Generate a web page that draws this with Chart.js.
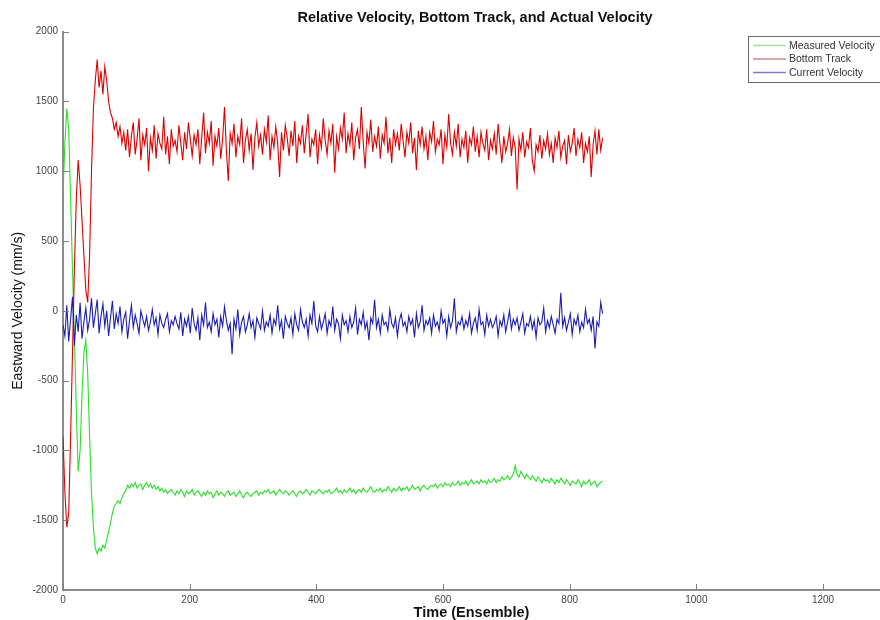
<!DOCTYPE html>
<html>
<head>
<meta charset="utf-8">
<script src="https://cdn.jsdelivr.net/npm/chart.js@4.4.1/dist/chart.umd.min.js"></script>
<style>
  html, body { margin: 0; padding: 0; background: #fff; }
  #wrap { width: 880px; height: 620px; position: relative; }
</style>
</head>
<body>
<div id="wrap"><canvas id="c"></canvas></div>
<script>
// ---- data ----
const chartTitle = 'Relative Velocity, Bottom Track, and Actual Velocity';
const xAxisTitle = 'Time (Ensemble)';
const yAxisTitle = 'Eastward Velocity (mm/s)';
const seriesNames = ['Measured Velocity', 'Bottom Track', 'Current Velocity'];
const ensembleStep = 3; // one sample every 3 ensembles, starting at ensemble 0
const xTickValues = [0, 200, 400, 600, 800, 1000, 1200];
const yTickValues = [-2000, -1500, -1000, -500, 0, 500, 1000, 1500, 2000];

const measuredVelocity = [
  850,1200,1450,1300,800,300,-200,-700,-1150,-1000,-600,-300,-210,-450,-900,
  -1300,-1550,-1700,-1740,-1700,-1720,-1680,-1700,-1640,-1580,-1520,-1450,-1400,-1380,-1360,
  -1380,-1340,-1310,-1290,-1250,-1270,-1240,-1260,-1230,-1270,-1250,-1240,-1280,-1250,-1230,
  -1260,-1240,-1270,-1250,-1280,-1260,-1290,-1270,-1300,-1280,-1310,-1290,-1280,-1300,-1320,
  -1290,-1310,-1280,-1300,-1330,-1290,-1310,-1300,-1280,-1320,-1300,-1290,-1310,-1330,-1300,
  -1320,-1290,-1310,-1300,-1340,-1310,-1290,-1320,-1300,-1310,-1330,-1300,-1290,-1320,-1310,
  -1300,-1330,-1310,-1290,-1320,-1340,-1310,-1300,-1320,-1330,-1310,-1300,-1290,-1320,-1300,
  -1310,-1290,-1300,-1280,-1310,-1300,-1290,-1320,-1300,-1280,-1300,-1310,-1290,-1300,-1320,
  -1300,-1290,-1310,-1330,-1300,-1290,-1310,-1300,-1280,-1300,-1320,-1290,-1300,-1310,-1290,
  -1280,-1300,-1310,-1290,-1300,-1280,-1310,-1300,-1290,-1270,-1300,-1290,-1310,-1280,-1300,
  -1290,-1270,-1300,-1280,-1310,-1290,-1280,-1300,-1270,-1290,-1300,-1280,-1260,-1290,-1300,
  -1280,-1290,-1270,-1300,-1280,-1290,-1260,-1280,-1300,-1270,-1290,-1280,-1260,-1290,-1270,
  -1280,-1260,-1290,-1270,-1250,-1280,-1270,-1260,-1290,-1260,-1250,-1270,-1280,-1260,-1250,
  -1260,-1240,-1270,-1250,-1240,-1260,-1230,-1250,-1240,-1260,-1230,-1250,-1240,-1220,-1250,
  -1230,-1240,-1220,-1250,-1230,-1210,-1240,-1230,-1220,-1240,-1210,-1230,-1220,-1240,-1210,
  -1230,-1220,-1200,-1230,-1210,-1220,-1190,-1210,-1200,-1180,-1210,-1190,-1170,-1110,-1170,
  -1190,-1150,-1180,-1200,-1170,-1190,-1210,-1180,-1200,-1220,-1190,-1210,-1230,-1200,-1220,
  -1210,-1230,-1200,-1220,-1240,-1210,-1230,-1200,-1220,-1240,-1210,-1230,-1250,-1220,-1230,
  -1240,-1210,-1230,-1260,-1220,-1240,-1230,-1210,-1250,-1230,-1220,-1260,-1240,-1230,-1220
];

const bottomTrack = [
  -900,-1300,-1550,-1450,-900,-300,300,800,1080,900,650,400,150,60,400,
  1000,1450,1650,1800,1600,1720,1550,1750,1650,1500,1420,1380,1300,1350,1250,
  1320,1200,1280,1150,1300,1100,1250,1350,1120,1230,1380,1080,1260,1190,1310,
  1000,1240,1150,1330,1090,1270,1200,1160,1390,1120,1250,1050,1300,1180,1220,
  1140,1330,1200,1080,1280,1160,1350,1230,1110,1260,1190,1300,1050,1240,1420,
  1130,1280,1200,1360,1040,1250,1180,1310,1090,1230,1460,1150,930,1270,1200,
  1340,1100,1250,1190,1380,1060,1220,1300,1150,1270,1010,1240,1350,1180,1260,
  1120,1300,1210,1400,1080,1250,1170,1320,1200,960,1280,1150,1330,1240,1110,
  1290,1180,1360,1060,1250,1200,1330,1130,1270,1410,1100,1230,1190,1300,1050,
  1260,1170,1380,1220,1120,1290,1200,1340,990,1250,1160,1310,1230,1420,1130,
  1270,1190,1350,1080,1240,1300,1160,1460,1210,1020,1280,1200,1370,1140,1250,
  1180,1320,1090,1260,1200,1390,1130,1240,1060,1300,1190,1270,1150,1340,1220,
  1100,1280,1200,1350,1130,1240,1010,1290,1190,1320,1160,1250,1080,1280,1210,
  1360,1140,1230,1190,1300,1050,1260,1170,1410,1200,1120,1280,1180,1340,1100,
  1230,1170,1290,1060,1240,1190,1320,1140,1250,1100,1280,1200,1150,1300,1080,
  1220,1160,1270,1120,1340,1190,1060,1250,1140,1200,1300,1110,1240,1170,870,
  1230,1150,1280,1100,1210,1170,1310,1080,1000,1190,1140,1260,1090,1220,1160,
  1270,1120,1200,1060,1240,1170,1290,1100,1180,1220,1050,1260,1140,1200,1310,
  1110,1230,1170,1280,1060,1200,1140,1250,960,1190,1290,1120,1300,1150,1240
];

const currentVelocity = [
  -100,-180,40,-220,-60,100,-250,-30,-150,60,-200,-80,20,-140,-60,
  90,-120,-20,80,-160,-40,50,-110,0,-180,-50,70,-130,-20,-90,
  30,-150,-60,-10,-200,-70,40,-120,-30,-90,-160,0,-60,-110,-40,
  -140,-80,10,-100,-50,-170,-30,-90,-120,-60,-20,-150,-70,-100,-40,
  -90,-130,-10,-180,-60,-110,-40,-160,20,-90,-140,-50,-210,-30,-100,
  60,-120,-80,-150,-20,-100,-60,-190,-40,-110,30,-70,-140,-90,-310,
  -60,-130,10,-170,-80,-40,-150,-100,-20,-120,-70,-190,-50,-90,-130,
  0,-140,-80,-110,-30,-160,-60,-100,40,-130,-70,-200,-40,-90,-120,
  -50,-170,-20,-100,-140,10,-80,-120,-60,-180,-30,-90,70,-110,-150,
  -40,-130,-80,-20,-160,-70,-110,30,-140,-60,-90,-200,-30,-100,-70,
  -150,-40,-120,-80,20,-170,-60,-100,-10,-130,-80,-210,-50,-90,80,
  -120,-60,-160,-30,-100,-80,-140,10,-90,-120,-50,-180,-70,-20,-110,
  -80,-150,-40,-100,-60,-190,-20,-120,-80,40,-140,-70,-100,-50,-160,
  -30,-110,-80,-140,0,-90,-60,-180,-40,-120,-70,90,-150,-80,-100,
  -40,-130,-70,-110,-20,-160,-90,-50,-140,10,-100,-80,-170,-30,-110,
  -60,-120,-90,-40,-180,-70,-110,-30,-150,-80,0,-130,-60,-100,-50,
  -140,-80,-20,-160,-90,-110,-40,-130,-70,-190,-50,-100,-80,20,-150,
  -70,-120,-40,-100,-160,-60,-90,130,-110,-50,-140,-80,-20,-170,-60,
  -100,-30,-150,-80,-120,10,-90,-60,-140,-40,-270,-80,-110,60,-20
];

// ---- styling ----
const lineColors = ['#2ade2a', '#dd0000', '#1c1cb4'];
const legendColors = ['#9be89b', '#c98a8a', '#7b7bc8'];
const FONT = '"Liberation Sans", Arial, sans-serif';

const toPoints = arr => arr.map((v, i) => ({ x: i * ensembleStep, y: v }));

const innerTicks = {
  id: 'innerTicks',
  afterDatasetsDraw(chart) {
    const ctx = chart.ctx, a = chart.chartArea;
    const xs = chart.scales.x, ys = chart.scales.y;
    ctx.save();
    ctx.strokeStyle = '#808080';
    ctx.lineWidth = 1;
    ctx.beginPath();
    xTickValues.forEach(v => {
      const p = Math.round(xs.getPixelForValue(v)) + 0.5;
      ctx.moveTo(p, a.bottom); ctx.lineTo(p, a.bottom - 6);
    });
    yTickValues.forEach(v => {
      const p = Math.round(ys.getPixelForValue(v)) + 0.5;
      ctx.moveTo(a.left, p); ctx.lineTo(a.left + 6, p);
    });
    ctx.stroke();
    ctx.restore();
  }
};

// Title drawn centred over the (wider, partly cropped) axes box
const axesTitle = {
  id: 'axesTitle',
  afterDraw(chart) {
    const ctx = chart.ctx;
    ctx.save();
    ctx.font = 'bold 14.5px ' + FONT;
    ctx.fillStyle = '#111';
    ctx.textAlign = 'center';
    ctx.textBaseline = 'middle';
    ctx.fillText(chartTitle, 475, 17.5);
    ctx.restore();
  }
};

const boxLegend = {
  id: 'boxLegend',
  afterDraw(chart) {
    const ctx = chart.ctx;
    const x0 = 748, y0 = 36, w = 140, h = 46;
    ctx.save();
    ctx.fillStyle = '#fff';
    ctx.fillRect(x0, y0, w, h);
    ctx.strokeStyle = '#6a6a6a';
    ctx.lineWidth = 1;
    ctx.strokeRect(x0 + 0.5, y0 + 0.5, w, h);
    ctx.font = '10.5px ' + FONT;
    ctx.textBaseline = 'middle';
    ctx.textAlign = 'left';
    chart.data.datasets.forEach((ds, i) => {
      const y = y0 + 9.5 + i * 13.5;
      ctx.strokeStyle = legendColors[i];
      ctx.lineWidth = 1.5;
      ctx.beginPath();
      ctx.moveTo(753, y); ctx.lineTo(786, y);
      ctx.stroke();
      ctx.fillStyle = '#333';
      ctx.fillText(ds.label, 789, y + 0.5);
    });
    ctx.restore();
  }
};

new Chart(document.getElementById('c'), {
  type: 'line',
  data: {
    datasets: [
      { label: seriesNames[0], data: toPoints(measuredVelocity), borderColor: lineColors[0], order: 3 },
      { label: seriesNames[1], data: toPoints(bottomTrack), borderColor: lineColors[1], order: 2 },
      { label: seriesNames[2], data: toPoints(currentVelocity), borderColor: lineColors[2], order: 1 }
    ]
  },
  options: {
    responsive: true,
    maintainAspectRatio: false,
    animation: false,
    layout: { padding: { top: 31.7, right: 0, bottom: 0, left: 0 } },
    elements: {
      line: { borderWidth: 1.1, tension: 0 },
      point: { radius: 0 }
    },
    plugins: {
      legend: { display: false },
      tooltip: { enabled: false },
      title: { display: false }
    },
    scales: {
      x: {
        type: 'linear',
        min: 0,
        max: 1290,
        afterBuildTicks: s => { s.ticks = xTickValues.map(v => ({ value: v })); },
        afterFit: s => { s.height = 30; },
        grid: { display: false, drawTicks: false },
        border: { display: true, color: '#8c8c8c', width: 2 },
        ticks: {
          padding: 4,
          color: '#444',
          font: { family: FONT, size: 10 },
          maxRotation: 0,
          autoSkip: false,
          callback: v => String(v)
        },
        title: {
          display: true,
          text: xAxisTitle,
          color: '#111',
          font: { family: FONT, size: 14.5, weight: 'bold' },
          padding: { top: 0, bottom: -2 }
        }
      },
      y: {
        type: 'linear',
        min: -2000,
        max: 2000,
        afterBuildTicks: s => { s.ticks = yTickValues.map(v => ({ value: v })); },
        afterFit: s => { s.width = 63; },
        grid: { display: false, drawTicks: false },
        border: { display: true, color: '#8c8c8c', width: 2 },
        ticks: {
          padding: 5,
          color: '#444',
          font: { family: FONT, size: 10 },
          autoSkip: false,
          callback: v => String(v)
        },
        title: {
          display: true,
          text: yAxisTitle,
          color: '#111',
          font: { family: FONT, size: 14 },
          padding: { top: 10, bottom: 0 }
        }
      }
    }
  },
  plugins: [innerTicks, axesTitle, boxLegend]
});
</script>
</body>
</html>
